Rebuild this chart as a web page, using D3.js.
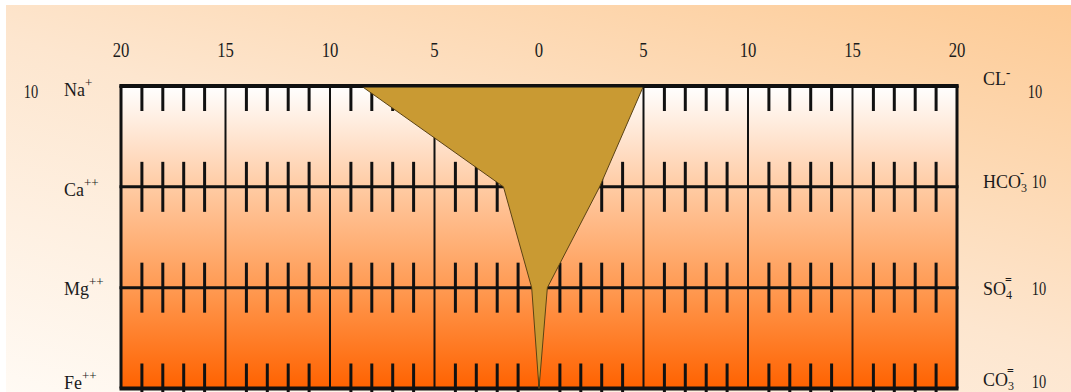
<!DOCTYPE html>
<html>
<head>
<meta charset="utf-8">
<script src="https://cdn.jsdelivr.net/npm/d3@7/dist/d3.min.js"></script>
<style>
	html, body { margin: 0; padding: 0; background: #fff; }
	svg { display: block; }
	text { font-family: "Liberation Serif", "DejaVu Serif", serif; fill: #1b1b1b; }
</style>
</head>
<body>
<svg id="chart" width="1071" height="392"></svg>
<script>

// Data
// ==============================================

var cations = ["Na", "Ca", "Mg", "Fe"];
var cationCharge = ["+", "++", "++", "++"];
var cationValues = [8.5, 1.7, 0.35, 0];

var anions = ["CL", "HCO", "SO", "CO"];
var anionSub = ["", "3", "4", "3"];
var anionCharge = ["-", "-", "=", "="];
var anionValues = [5, 2.9, 0.4, 0];

var cationUnits = ["10", null, null, null];
var anionUnits = ["10", "10", "10", "10"];

var scaleTicks = [-20, -15, -10, -5, 0, 5, 10, 15, 20];
var scaleLabels = ["20", "15", "10", "5", "0", "5", "10", "15", "20"];

// Setup
// ==============================================

var svg = d3.select("#chart");
var width = 1071, height = 392;

var x = d3.scaleLinear().domain([-20, 20]).range([121, 957]);
var y = d3.scalePoint().domain(d3.range(cations.length)).range([86, 388.5]);

var top0 = y(0), bottom0 = y(cations.length - 1);

var defs = svg.append("defs");

var bg = defs.append("linearGradient")
	.attr("id", "bg-grad")
	.attr("gradientUnits", "userSpaceOnUse")
	.attr("x1", 0).attr("y1", 392)
	.attr("x2", 196).attr("y2", -262);
bg.append("stop").attr("offset", 0).attr("stop-color", "#fffaf4");
bg.append("stop").attr("offset", 0.5).attr("stop-color", "#fde6cf");
bg.append("stop").attr("offset", 1).attr("stop-color", "#fdca94");

var box = defs.append("linearGradient")
	.attr("id", "box-grad")
	.attr("gradientUnits", "userSpaceOnUse")
	.attr("x1", 0).attr("y1", top0)
	.attr("x2", 0).attr("y2", bottom0);
box.append("stop").attr("offset", 0).attr("stop-color", "#ffffff");
box.append("stop").attr("offset", 0.34).attr("stop-color", "#ffcaa2");
box.append("stop").attr("offset", 0.67).attr("stop-color", "#ff9a52");
box.append("stop").attr("offset", 1).attr("stop-color", "#ff6200");

// Background
// ==============================================

svg.append("rect")
	.attr("x", 6).attr("y", 5)
	.attr("width", width - 6).attr("height", height - 5)
	.attr("fill", "url(#bg-grad)");

// Plot box
// ==============================================

svg.append("rect")
	.attr("x", x(-20)).attr("y", top0)
	.attr("width", x(20) - x(-20)).attr("height", bottom0 - top0)
	.attr("fill", "url(#box-grad)");

var grid = svg.append("g").attr("stroke", "#111").attr("fill", "none");

// major verticals
grid.selectAll("line.major")
	.data(scaleTicks)
	.enter().append("line")
	.attr("class", "major")
	.attr("x1", function(d){ return x(d); })
	.attr("x2", function(d){ return x(d); })
	.attr("y1", top0).attr("y2", bottom0)
	.attr("stroke-width", function(d){ return Math.abs(d) === 20 ? 3 : 2; });

// row lines
grid.selectAll("line.row")
	.data(d3.range(cations.length))
	.enter().append("line")
	.attr("class", "row")
	.attr("x1", x(-20) - 1.5).attr("x2", x(20) + 1.5)
	.attr("y1", function(d){ return y(d); })
	.attr("y2", function(d){ return y(d); })
	.attr("stroke-width", function(d){ return d === 0 || d === cations.length - 1 ? 4 : 3; });

// minor ticks
var minor = d3.range(-19, 20).filter(function(v){ return v % 5 !== 0; });
var tickData = [];
d3.range(cations.length).forEach(function(r){
	minor.forEach(function(v){ tickData.push({ row: r, v: v }); });
});

grid.selectAll("line.minor")
	.data(tickData)
	.enter().append("line")
	.attr("class", "minor")
	.attr("x1", function(d){ return x(d.v); })
	.attr("x2", function(d){ return x(d.v); })
	.attr("y1", function(d){ return d.row === 0 ? y(d.row) : y(d.row) - 25; })
	.attr("y2", function(d){ return y(d.row) + 25; })
	.attr("stroke-width", 3);

// Stiff polygon
// ==============================================

var pts = cationValues.map(function(v, i){ return [x(-v), y(i)]; })
	.concat(anionValues.map(function(v, i){ return [x(v), y(i)]; }).reverse());

svg.append("path")
	.attr("d", d3.line()(pts) + "Z")
	.attr("fill", "#c99a33")
	.attr("stroke", "#5a4214")
	.attr("stroke-width", 1)
	.attr("stroke-linejoin", "round");

// top frame line over the polygon
svg.append("line")
	.attr("x1", x(-20) - 1.5).attr("x2", x(20) + 1.5)
	.attr("y1", top0).attr("y2", top0)
	.attr("stroke", "#111").attr("stroke-width", 3);

// Labels
// ==============================================

function numLabel(g, tx, ty, txt, size, anchor){
	g.append("text")
		.attr("transform", "translate(" + tx + "," + ty + ") scale(0.76,1)")
		.attr("text-anchor", anchor || "middle")
		.style("font-size", size + "px")
		.text(txt);
}

var labels = svg.append("g");

scaleTicks.forEach(function(t, i){
	numLabel(labels, x(t), 57, scaleLabels[i], 22);
});

// cation names on the left
var catDy = [10, 9, 7, 0];
cations.forEach(function(c, i){
	var t = labels.append("text")
		.attr("x", 64)
		.attr("y", y(i) + catDy[i])
		.style("font-size", "18px")
		.text(c);
	t.append("tspan")
		.attr("dy", -9)
		.style("font-size", "13px")
		.text(cationCharge[i]);
	if (cationUnits[i]) numLabel(labels, 31, y(i) + 12, cationUnits[i], 19);
});

// anion names on the right
var anDy = [-1, 1, 7, -3];
var unitDy = [12, 1, 7, -1];
var unitX = [1035, 1039, 1039, 1039];
anions.forEach(function(a, i){
	var t = labels.append("text")
		.attr("x", 983)
		.attr("y", y(i) + anDy[i])
		.style("font-size", "18px")
		.text(a);
	if (anionSub[i]) {
		t.append("tspan")
			.attr("dy", 4)
			.style("font-size", "12px")
			.text(anionSub[i]);
		t.append("tspan")
			.attr("dx", -7)
			.attr("dy", -15)
			.style("font-size", "12px")
			.style("font-weight", "bold")
			.text(anionCharge[i]);
	} else {
		t.append("tspan")
			.attr("dx", 0)
			.attr("dy", -8)
			.style("font-size", "13px")
			.style("font-weight", "bold")
			.text(anionCharge[i]);
	}
	numLabel(labels, unitX[i], y(i) + unitDy[i], anionUnits[i], 19);
});

</script>
</body>
</html>
